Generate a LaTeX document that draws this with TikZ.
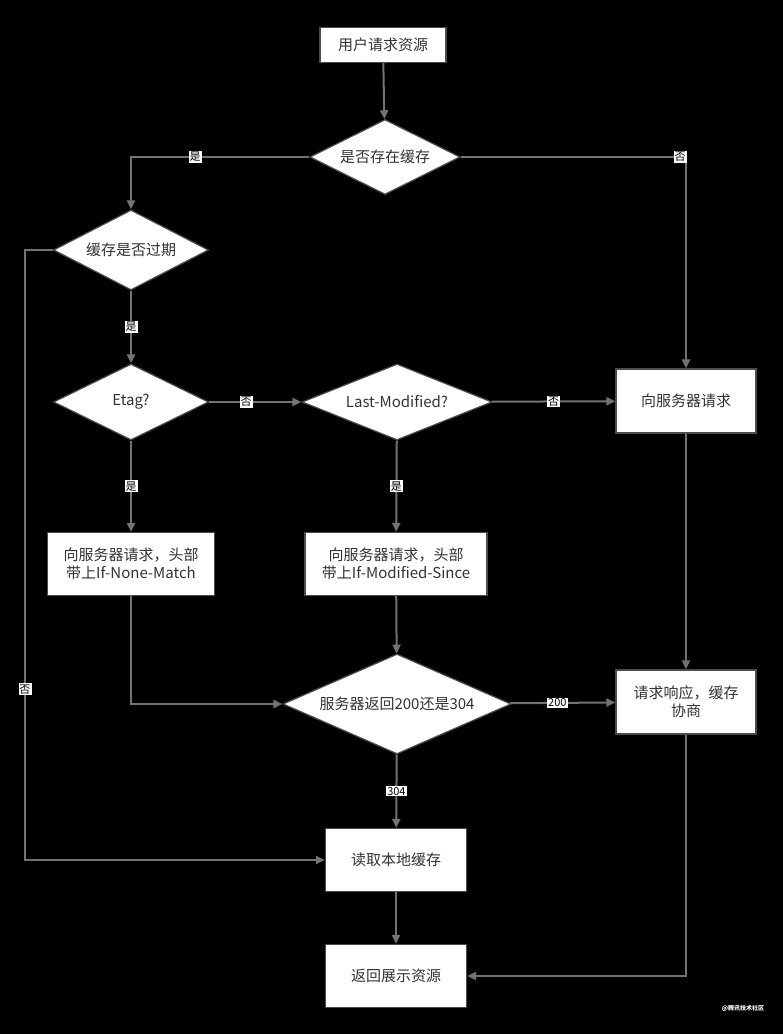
\documentclass[tikz,border=0pt]{standalone}
\usepackage{fontspec}
\setmainfont{Noto Sans CJK SC}
\usetikzlibrary{arrows.meta,shapes.geometric}

\tikzset{
  box/.style={draw=black!70, line width=1.2pt, fill=white, text=black!80, align=center, font=\fontsize{15}{18}\selectfont},
  decision/.style={diamond, aspect=2, draw=black!70, line width=1.2pt, fill=white, text=black!80, inner sep=0pt, font=\fontsize{15}{18}\selectfont},
  flow/.style={-{Triangle[length=9pt,width=8pt]}, draw=black!55, line width=2pt},
  tag/.style={fill=white, text=black, inner sep=1pt, font=\fontsize{11}{12}\selectfont}
}

\begin{document}
\begin{tikzpicture}[x=1pt,y=-1pt]
  \fill[black] (0,0) rectangle (783,1034);
  \useasboundingbox (0,0) rectangle (783,1034);

  \node[box, minimum width=126, minimum height=35] (start) at (383,45) {用户请求资源};
  \node[decision, minimum width=150, minimum height=75] (cached) at (385,157) {是否存在缓存};
  \node[decision, minimum width=155, minimum height=80] (expired) at (131,250) {缓存是否过期};
  \node[decision, minimum width=155, minimum height=76] (etag) at (131,402) {Etag?};
  \node[decision, minimum width=190, minimum height=76] (lastmod) at (397,402) {Last-Modified?};
  \node[box, minimum width=140, minimum height=64] (request) at (686,401) {向服务器请求};
  \node[box, minimum width=167, minimum height=63] (nonematch) at (131,564) {向服务器请求，头部\\带上If-None-Match};
  \node[box, minimum width=182, minimum height=63] (modsince) at (396,564) {向服务器请求，头部\\带上If-Modified-Since};
  \node[decision, minimum width=228, minimum height=100] (status) at (397,704) {服务器返回200还是304};
  \node[box, minimum width=140, minimum height=64] (response) at (686,702) {请求响应，缓存\\协商};
  \node[box, minimum width=141, minimum height=63] (readlocal) at (396,860) {读取本地缓存};
  \node[box, minimum width=141, minimum height=63] (show) at (396,976) {返回展示资源};
  \node[text=white, font=\fontsize{6}{7}\selectfont\bfseries] (mark) at (743,1008) {@腾讯技术社区};

  % branches
  \draw[flow] (start) -- (cached);
  \draw[flow] (cached.west) -| node[tag, pos=0.32] {是} (expired.north);
  \draw[flow] (cached.east) -| node[tag, pos=0.487] {否} (request.north);
  \draw[flow] (expired.west) -- (25,250) -- node[tag, pos=0.72] {否} (25,860) -- (readlocal.west);
  \draw[flow] (expired) -- node[tag] {是} (etag);
  \draw[flow] (etag) -- node[tag, pos=0.4] {否} (lastmod);
  \draw[flow] (lastmod) -- node[tag] {否} (request);
  \draw[flow] (etag) -- node[tag] {是} (nonematch);
  \draw[flow] (lastmod) -- node[tag] {是} (modsince);
  \draw[flow] (nonematch.south) |- (status.west);
  \draw[flow] (modsince) -- (status);
  \draw[flow] (status) -- node[tag, pos=0.45] {200} (response);
  \draw[flow] (status) -- node[tag] {304} (readlocal);
  \draw[flow] (request) -- (response);
  \draw[flow] (response.south) |- (show.east);
  \draw[flow] (readlocal) -- (show);
\end{tikzpicture}
\end{document}
